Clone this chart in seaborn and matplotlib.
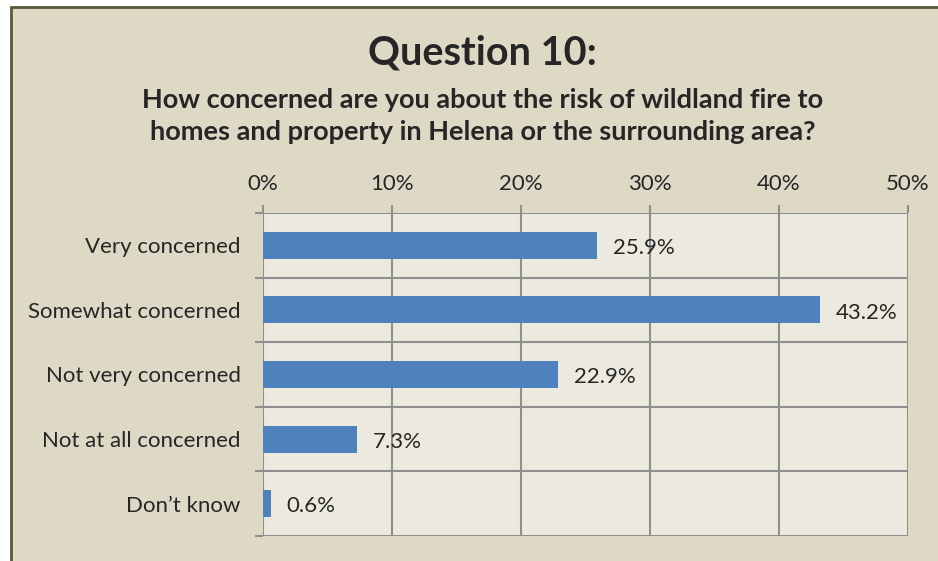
import matplotlib
matplotlib.use("Agg")
import matplotlib.pyplot as plt
from matplotlib.patches import Rectangle
from matplotlib.ticker import FixedLocator
import seaborn as sns
import pandas as pd

categories = ["Very concerned", "Somewhat concerned", "Not very concerned",
              "Not at all concerned", "Don\u2019t know"]
values = [25.9, 43.2, 22.9, 7.3, 0.6]
x_ticks = [0, 10, 20, 30, 40, 50]
x_tick_labels = ["0%", "10%", "20%", "30%", "40%", "50%"]
title = "Question 10:"
subtitle = ("How concerned are you about the risk of wildland fire to\n"
            "homes and property in Helena or the surrounding area?")

sns.set_theme(style="white")
plt.rcParams["font.family"] = ["Lato", "DejaVu Sans"]

FIG_BG = "#ddd9c4"
PLOT_BG = "#eceade"
GRID = "#8f8f8f"
BAR = "#4f81bd"
TEXT = "#262626"
LABEL_SIZE = 16

fig = plt.figure(figsize=(9.38, 5.61), dpi=100)
fig.patch.set_facecolor("white")

# panel background with a dark frame on its top and left edges
W, H = 938.0, 561.0
frame = Rectangle((10.5 / W, -0.05), 1.1, 1 - 6.5 / H + 0.05,
                  transform=fig.transFigure, facecolor=FIG_BG,
                  edgecolor="#5a583c", linewidth=2.0, zorder=-10)
fig.patches.append(frame)

ax = fig.add_axes([263 / W, 1 - 536 / H, (908 - 263) / W, (536 - 213) / H])
ax.set_facecolor(PLOT_BG)

df = pd.DataFrame({"category": categories, "value": values})
sns.barplot(data=df, x="value", y="category", orient="h", color=BAR,
            saturation=1, width=0.42, linewidth=0, ax=ax, zorder=3)

ax.set_xlim(0, 50)
ax.set_ylim(len(categories) - 0.5, -0.5)
ax.set_xlabel("")
ax.set_ylabel("")

# x axis on top with percent labels
ax.xaxis.tick_top()
ax.set_xticks(x_ticks)
ax.set_xticklabels(x_tick_labels)
ax.tick_params(axis="x", which="major", top=True, bottom=False, length=6,
               width=1.5, color=GRID, pad=8, labelsize=LABEL_SIZE, labelcolor=TEXT)

# category labels centred on bars, tick marks on slot boundaries
ax.set_yticks(range(len(categories)))
ax.set_yticklabels(categories)
ax.yaxis.set_minor_locator(FixedLocator([i - 0.5 for i in range(len(categories) + 1)]))
ax.tick_params(axis="y", which="major", left=False, length=0, pad=16,
               labelsize=LABEL_SIZE, labelcolor=TEXT)
ax.tick_params(axis="y", which="minor", left=True, length=6, width=1.5, color=GRID)

# grid: vertical at each 10%, horizontal between categories
for xv in x_ticks:
    ax.axvline(xv, color=GRID, lw=1.5, zorder=1)
for i in range(len(categories) + 1):
    ax.axhline(i - 0.5, color=GRID, lw=1.5, zorder=1)
for s in ax.spines.values():
    s.set_visible(False)

for i, v in enumerate(values):
    ax.annotate(f"{v:.1f}%", xy=(v, i), xytext=(11.5, -2), textcoords="offset points",
                ha="left", va="center", fontsize=LABEL_SIZE, color=TEXT, zorder=4)

fig.text(482 / W, 1 - 53 / H, title, ha="center", va="center",
         fontsize=28.5, fontweight="bold", color=TEXT)
fig.text(483 / W, 1 - 116 / H, subtitle, ha="center", va="center",
         fontsize=19.5, fontweight="bold", color=TEXT, linespacing=1.35)

fig.savefig("out.png", dpi=100, facecolor=fig.get_facecolor())
